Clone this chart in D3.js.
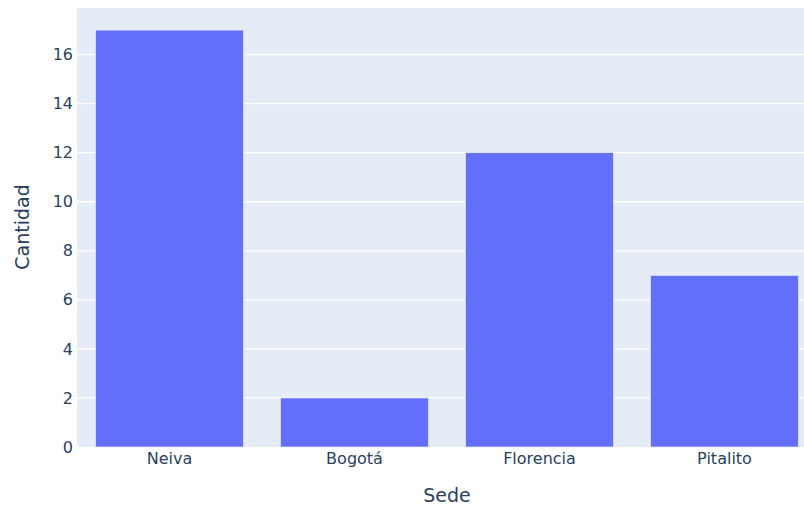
<!DOCTYPE html>
<meta charset="utf-8">
<style>
body { margin: 0; background: #fff; }
svg text { font-family: "DejaVu Sans", sans-serif; fill: #2a3f5f; }
</style>
<body>
<script src="https://d3js.org/d3.v7.min.js"></script>
<script>
// data
var sedes = ["Neiva", "Bogotá", "Florencia", "Pitalito"];
var cantidad = [17, 2, 12, 7];
var yTicks = [0, 2, 4, 6, 8, 10, 12, 14, 16];

var W = 804, H = 506;
var plot = {left: 77, top: 8, right: 817, bottom: 447};

var svg = d3.select("body").append("svg")
    .attr("width", W)
    .attr("height", H);

var x = d3.scaleBand().domain(sedes).range([plot.left, plot.right]).paddingInner(0.2).paddingOuter(0.1);
var y = d3.scaleLinear().domain([0, 17.9]).range([plot.bottom, plot.top]);

// background
svg.append("rect")
    .attr("x", plot.left).attr("y", plot.top)
    .attr("width", plot.right - plot.left).attr("height", plot.bottom - plot.top)
    .attr("fill", "#E5ECF6");

// gridlines
svg.append("g").selectAll("line")
    .data(yTicks.filter(function(d) { return d > 0; }))
  .enter().append("line")
    .attr("x1", plot.left).attr("x2", plot.right)
    .attr("y1", function(d) { return y(d); })
    .attr("y2", function(d) { return y(d); })
    .attr("stroke", "#fff").attr("stroke-width", 1.3);

// bars
svg.append("g").selectAll("rect")
    .data(sedes)
  .enter().append("rect")
    .attr("x", function(d) { return x(d); })
    .attr("width", x.bandwidth())
    .attr("y", function(d, i) { return y(cantidad[i]); })
    .attr("height", function(d, i) { return y(0) - y(cantidad[i]); })
    .attr("fill", "#636efa")
    .attr("stroke", "#E5ECF6").attr("stroke-width", 0.7);

// y axis
var yAxis = svg.append("g")
    .attr("transform", "translate(" + plot.left + ",0)")
    .call(d3.axisLeft(y).tickValues(yTicks).tickSize(0).tickPadding(4));
yAxis.select(".domain").remove();
yAxis.selectAll("text").style("font-size", "16px").attr("fill", "#2a3f5f");

// x axis
var xAxis = svg.append("g")
    .attr("transform", "translate(0," + plot.bottom + ")")
    .call(d3.axisBottom(x).tickSize(0).tickPadding(6));
xAxis.select(".domain").remove();
xAxis.selectAll("text").style("font-size", "16px").attr("fill", "#2a3f5f");

// axis titles
svg.append("text")
    .attr("x", 447)
    .attr("y", 502)
    .attr("text-anchor", "middle")
    .style("font-size", "19px")
    .text("Sede");

svg.append("text")
    .attr("transform", "translate(29,227) rotate(-90)")
    .attr("text-anchor", "middle")
    .style("font-size", "19px")
    .text("Cantidad");
</script>
</body>
